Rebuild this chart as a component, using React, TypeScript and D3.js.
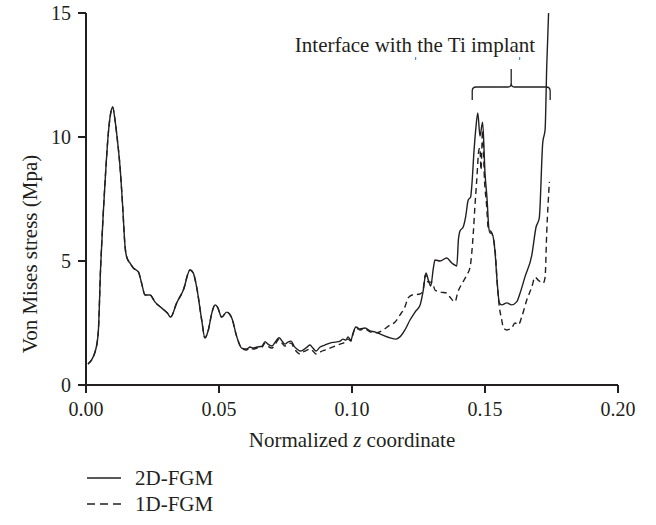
import React from "react";
import * as d3 from "d3";

const xTicks = [0, 0.05, 0.1, 0.15, 0.2];
const yTicks = [0, 5, 10, 15];
const seriesNames = ["2D-FGM", "1D-FGM"];
const yTitle = "Von Mises stress (Mpa)";
const annotation = "Interface with the Ti implant";
const braceRange = [0.1452, 0.1745];

const zSolid = [
  0.00075, 0.0034, 0.0046, 0.0055, 0.0065, 0.0075, 0.0084, 0.0093, 0.0100, 0.0109,
  0.0118, 0.0128, 0.0138, 0.0147, 0.0153, 0.0165, 0.0178, 0.0197, 0.0209, 0.0222,
  0.0241, 0.0259, 0.0285, 0.0306, 0.0318, 0.0341, 0.0366, 0.0391, 0.0403, 0.0416,
  0.0435, 0.0447, 0.0460, 0.0473, 0.0485, 0.0494, 0.0510, 0.0529, 0.0548, 0.0567,
  0.0585, 0.0604, 0.0617, 0.0628, 0.0643, 0.0662, 0.0673, 0.0684, 0.0699, 0.0714,
  0.0726, 0.0737, 0.0748, 0.0759, 0.0771, 0.0782, 0.0793, 0.0805, 0.0816, 0.0831,
  0.0842, 0.0853, 0.0865, 0.0880, 0.0898, 0.0917, 0.0936, 0.0955, 0.0966, 0.0977,
  0.0985, 0.0996, 0.1004, 0.1015, 0.1030, 0.1049, 0.1068, 0.1086, 0.1113, 0.1143,
  0.1165, 0.1180, 0.1199, 0.1218, 0.1237, 0.1256, 0.1268, 0.1278, 0.1287, 0.1296,
  0.1306, 0.1312, 0.1331, 0.1356, 0.1375, 0.1394, 0.1400, 0.1406, 0.1418, 0.1427,
  0.1437, 0.1446, 0.1450, 0.1459, 0.1466, 0.1473, 0.1481, 0.1491, 0.1500, 0.1508,
  0.1514, 0.1519, 0.1526, 0.1534, 0.1538, 0.1546, 0.1554, 0.1563, 0.1582, 0.1600,
  0.1619, 0.1632, 0.1650, 0.1676, 0.1692, 0.1704, 0.1717, 0.1726, 0.1732, 0.1739,
];
const vSolid = [
  0.85, 1.33, 2.10, 4.76, 6.94, 8.79, 10.16, 10.97, 11.21, 10.69,
  9.88, 8.79, 7.18, 5.56, 5.16, 4.92, 4.72, 4.56, 4.11, 3.63,
  3.63, 3.35, 3.10, 2.90, 2.74, 3.31, 3.83, 4.64, 4.52, 3.95,
  2.62, 1.90, 2.22, 2.90, 3.23, 3.15, 2.74, 2.94, 2.70, 1.94,
  1.49, 1.45, 1.53, 1.49, 1.53, 1.57, 1.75, 1.65, 1.57, 1.77,
  1.91, 1.77, 1.65, 1.73, 1.77, 1.57, 1.45, 1.37, 1.41, 1.53,
  1.61, 1.49, 1.37, 1.53, 1.61, 1.69, 1.73, 1.77, 1.85, 1.81,
  1.94, 1.81, 2.10, 2.34, 2.26, 2.30, 2.18, 2.14, 2.02, 1.90,
  1.85, 1.94, 2.22, 2.62, 2.94, 3.23, 3.83, 4.52, 4.23, 3.99,
  4.72, 5.04, 5.00, 5.12, 4.92, 4.80, 5.85, 6.21, 6.37, 6.77,
  7.46, 7.58, 7.98, 9.48, 10.40, 10.97, 10.04, 10.60, 8.55, 7.46,
  6.37, 6.13, 6.13, 5.73, 5.32, 4.11, 3.31, 3.23, 3.31, 3.23,
  3.35, 3.71, 4.35, 5.24, 6.37, 6.73, 9.76, 10.30, 12.82, 15.0,
];

const zDashed = [
  0.00075, 0.0034, 0.0046, 0.0055, 0.0065, 0.0075, 0.0084, 0.0093, 0.0100, 0.0109,
  0.0118, 0.0128, 0.0138, 0.0147, 0.0153, 0.0165, 0.0178, 0.0197, 0.0209, 0.0222,
  0.0241, 0.0259, 0.0285, 0.0306, 0.0318, 0.0341, 0.0366, 0.0391, 0.0403, 0.0416,
  0.0435, 0.0447, 0.0460, 0.0473, 0.0485, 0.0494, 0.0510, 0.0529, 0.0548, 0.0567,
  0.0585, 0.0604, 0.0617, 0.0628, 0.0643, 0.0662, 0.0673, 0.0684, 0.0699, 0.0714,
  0.0726, 0.0737, 0.0748, 0.0759, 0.0771, 0.0782, 0.0793, 0.0805, 0.0816, 0.0831,
  0.0842, 0.0853, 0.0865, 0.0880, 0.0898, 0.0917, 0.0936, 0.0955, 0.0974, 0.0985,
  0.0996, 0.1004, 0.1015, 0.1030, 0.1049, 0.1068, 0.1090, 0.1117, 0.1143, 0.1162,
  0.1180, 0.1199, 0.1211, 0.1226, 0.1256, 0.1267, 0.1276, 0.1286, 0.1301, 0.1312,
  0.1331, 0.1356, 0.1368, 0.1387, 0.1398, 0.1417, 0.1432, 0.1444, 0.1456, 0.1462,
  0.1469, 0.1477, 0.1481, 0.1485, 0.1491, 0.1498, 0.1506, 0.1512, 0.1525, 0.1538,
  0.1546, 0.1554, 0.1563, 0.1569, 0.1582, 0.1600, 0.1613, 0.1625, 0.1638, 0.1657,
  0.1676, 0.1688, 0.1700, 0.1719, 0.1726, 0.1732, 0.1742,
];
const vDashed = [
  0.85, 1.33, 2.10, 4.76, 6.94, 8.79, 10.16, 10.97, 11.21, 10.69,
  9.88, 8.79, 7.18, 5.56, 5.16, 4.92, 4.72, 4.56, 4.11, 3.63,
  3.63, 3.35, 3.10, 2.90, 2.74, 3.31, 3.83, 4.64, 4.52, 3.95,
  2.62, 1.90, 2.22, 2.90, 3.23, 3.15, 2.74, 2.94, 2.70, 1.94,
  1.49, 1.41, 1.49, 1.45, 1.49, 1.53, 1.69, 1.57, 1.49, 1.69,
  1.85, 1.69, 1.57, 1.65, 1.69, 1.49, 1.33, 1.25, 1.33, 1.41,
  1.45, 1.37, 1.25, 1.33, 1.41, 1.49, 1.57, 1.65, 1.73, 1.85,
  1.77, 2.06, 2.30, 2.22, 2.26, 2.14, 2.10, 2.22, 2.42, 2.54,
  2.82, 3.15, 3.51, 3.63, 3.67, 3.83, 4.44, 4.15, 4.15, 3.83,
  3.75, 3.71, 3.55, 3.35, 3.75, 4.15, 4.44, 4.76, 6.13, 7.18,
  8.27, 9.48, 9.56, 8.67, 10.28, 8.27, 7.26, 6.33, 6.13, 5.44,
  4.11, 3.15, 2.62, 2.30, 2.22, 2.30, 2.50, 2.42, 2.74, 3.43,
  3.95, 4.35, 4.23, 4.11, 4.35, 6.13, 8.19,
];

const W = 656;
const H = 525;
const INK = "#231f20";
const FONT = "\"Liberation Serif\", \"DejaVu Serif\", serif";

export default function App() {
  const x = d3.scaleLinear().domain([0, 0.2]).range([86, 618]);
  const y = d3.scaleLinear().domain([0, 15]).range([385, 13]);
  const line = d3
    .line<[number, number]>()
    .x((d) => x(d[0]))
    .y((d) => y(d[1]))
    .curve(d3.curveMonotoneX);
  const solid = zSolid.map((z, i) => [z, vSolid[i]] as [number, number]);
  const dashed = zDashed.map((z, i) => [z, vDashed[i]] as [number, number]);

  const bx0 = x(braceRange[0]);
  const bx1 = x(braceRange[1]);
  const bm = (bx0 + bx1) / 2;
  const by = 87;
  const brace = `M${bx0},100 L${bx0},91 Q${bx0},${by} ${bx0 + 4},${by} L${bm - 3},${by} Q${bm},${by} ${bm},${by - 4} L${bm},69 M${bm},${by - 4} Q${bm},${by} ${bm + 3},${by} L${bx1 - 4},${by} Q${bx1},${by} ${bx1},91 L${bx1},100`;

  const txt = { fontFamily: FONT, fill: INK } as React.CSSProperties;

  return (
    <svg
      width={W}
      height={H}
      style={{ position: "absolute", left: 0, top: 0, background: "#fff", fontFamily: FONT }}
    >
      <rect width={W} height={H} fill="#fff" />
      <path d={line(dashed) || ""} fill="none" stroke={INK} strokeWidth={1.4} strokeDasharray="6,4" />
      <path d={line(solid) || ""} fill="none" stroke={INK} strokeWidth={1.4} />

      <line x1={x(0)} x2={x(0.2)} y1={y(0)} y2={y(0)} stroke={INK} strokeWidth={2} />
      <line x1={x(0)} x2={x(0)} y1={y(0) + 1} y2={y(15)} stroke={INK} strokeWidth={2} />
      {xTicks.map((t) => (
        <g key={"x" + t}>
          <line x1={x(t)} x2={x(t)} y1={y(0)} y2={y(0) + 8} stroke={INK} strokeWidth={2} />
          <text x={x(t)} y={416} textAnchor="middle" fontSize={20} style={txt}>
            {t.toFixed(2)}
          </text>
        </g>
      ))}
      {yTicks.map((t) => (
        <g key={"y" + t}>
          <line x1={x(0) - 8} x2={x(0)} y1={y(t)} y2={y(t)} stroke={INK} strokeWidth={2} />
          <text x={71} y={y(t) + 7} textAnchor="end" fontSize={20} style={txt}>
            {t}
          </text>
        </g>
      ))}
      <text x={352} y={447} textAnchor="middle" fontSize={21} style={txt}>
        Normalized <tspan fontStyle="italic">z</tspan> coordinate
      </text>
      <text transform="translate(37,254) rotate(-90)" textAnchor="middle" fontSize={21} style={txt}>
        {yTitle}
      </text>

      <text x={415} y={52} textAnchor="middle" fontSize={21} style={txt}>
        {annotation}
      </text>
      <rect x={415} y={57} width={1.2} height={3} fill="#4a8fd6" />
      <rect x={519} y={57} width={1.2} height={3} fill="#4a8fd6" />
      <path d={brace} fill="none" stroke={INK} strokeWidth={1.3} />

      <line x1={87} x2={121} y1={478} y2={478} stroke={INK} strokeWidth={1.4} />
      <text x={135} y={485} fontSize={21} style={txt}>
        {seriesNames[0]}
      </text>
      <line x1={87} x2={121} y1={504} y2={504} stroke={INK} strokeWidth={1.4} strokeDasharray="8,5" />
      <text x={135} y={511} fontSize={21} style={txt}>
        {seriesNames[1]}
      </text>
    </svg>
  );
}
